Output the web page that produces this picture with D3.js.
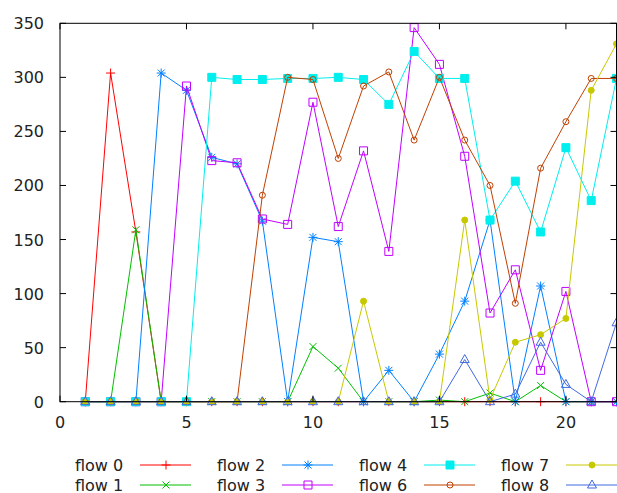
<!DOCTYPE html>
<html>
<head>
<meta charset="utf-8">
<script src="https://cdn.jsdelivr.net/npm/d3@7"></script>
<style>
  body { margin: 0; background: #fff; }
  text { font-family: 'DejaVu Sans', sans-serif; font-size: 16px; fill: #222; }
</style>
</head>
<body>
<svg id="chart" width="617" height="493"></svg>
<script>
// x positions 1..22
const steps = d3.range(1, 23)
const seriesNames = ['flow 0', 'flow 1', 'flow 2', 'flow 3', 'flow 4', 'flow 6', 'flow 7', 'flow 8']
const flow0 = [0, 304, 157, 0, 0, 0, 0, 0, 0, 0, 0, 0, 0, 0, 0, 0, 0, 0, 0, 0, 0, 0]
const flow1 = [0, 0, 159, 0, 0, 0, 0, 0, 0, 51, 31, 0, 0, 0, 1.5, 0, 8, 0, 15, 0, 0, 0]
const flow2 = [0, 0, 0, 304, 288, 226, 220, 167, 0, 152, 148, 0, 29, 0, 44, 93, 168, 0, 107, 0, 0, 0]
const flow3 = [0, 0, 0, 0, 292, 223, 221, 169, 164, 277, 162, 232, 139, 346, 312, 227, 82, 122, 29, 102, 0, 0]
const flow4 = [0, 0, 0, 0, 0, 300, 298, 298, 299, 299, 300, 298, 275, 324, 299, 299, 168, 204, 157, 235, 186, 299]
const flow6 = [0, 0, 0, 0, 0, 0, 0, 191, 300, 298, 225, 292, 305, 242, 300, 242, 200, 91, 216, 259, 299, 299]
const flow7 = [0, 0, 0, 0, 0, 0, 0, 0, 0, 0, 0, 93, 0, 0, 0, 168, 2, 55, 62, 77, 288, 331]
const flow8 = [0, 0, 0, 0, 0, 0, 0, 0, 0, 0, 0, 0, 0, 0, 0, 39, 0, 7, 55, 16, 0, 73]
const xTicks = [0, 5, 10, 15, 20]
const yTicks = [0, 50, 100, 150, 200, 250, 300, 350]

const colors = ['#ff0000', '#00c000', '#0080ff', '#c000ff', '#00eeee', '#c04000', '#c8c800', '#4169e1']
const symbols = ['plus', 'cross', 'star', 'box', 'fbox', 'circle', 'fcircle', 'tri']
const allValues = [flow0, flow1, flow2, flow3, flow4, flow6, flow7, flow8]

const svg = d3.select('#chart')
const plotLeft = 60
const plotRight = 616.5
const plotTop = 23.3
const plotBottom = 401.7

const x = d3.scaleLinear().domain([0, 22]).range([plotLeft, plotRight])
const y = d3.scaleLinear().domain([0, 350]).range([plotBottom, plotTop])

// marker path for each gnuplot point type
function marker (type, cx, cy) {
  const r = 4.5
  switch (type) {
    case 'plus': return `M${cx - r},${cy}H${cx + r}M${cx},${cy - r}V${cy + r}`
    case 'cross': return `M${cx - 3.5},${cy - 3.5}L${cx + 3.5},${cy + 3.5}M${cx - 3.5},${cy + 3.5}L${cx + 3.5},${cy - 3.5}`
    case 'star': return marker('plus', cx, cy) + marker('cross', cx, cy)
    case 'box':
    case 'fbox': return `M${cx - 4},${cy - 4}h8v8h-8Z`
    case 'circle':
    case 'fcircle': return `M${cx + 3},${cy}A3,3 0 1,1 ${cx - 3},${cy}A3,3 0 1,1 ${cx + 3},${cy}Z`
    case 'tri': return `M${cx},${cy - 5}L${cx + 4.5},${cy + 3}L${cx - 4.5},${cy + 3}Z`
  }
}
function isFilled (type) { return type === 'fbox' || type === 'fcircle' }

const series = seriesNames.map((name, i) => ({
  name,
  color: colors[i],
  symbol: symbols[i],
  values: steps.map((s, j) => ({ x: s, y: allValues[i][j] }))
}))

// clip so nothing spills outside the frame
svg.append('defs').append('clipPath').attr('id', 'plotclip')
  .append('rect').attr('x', plotLeft - 6).attr('y', plotTop - 6)
  .attr('width', plotRight - plotLeft + 12).attr('height', plotBottom - plotTop + 12)

const line = d3.line().x(d => x(d.x)).y(d => y(d.y))
const plot = svg.append('g').attr('clip-path', 'url(#plotclip)')

series.forEach(s => {
  const g = plot.append('g')
  g.append('path')
    .attr('d', line(s.values))
    .attr('fill', 'none')
    .attr('stroke', s.color)
    .attr('stroke-width', 1)
  g.selectAll('path.pt')
    .data(s.values)
    .join('path')
    .attr('class', 'pt')
    .attr('d', d => marker(s.symbol, x(d.x), y(d.y)))
    .attr('fill', isFilled(s.symbol) ? s.color : 'none')
    .attr('stroke', s.color)
    .attr('stroke-width', 1)
})

// frame and inward ticks (mirrored)
const frame = svg.append('g')
frame.append('rect')
  .attr('x', plotLeft).attr('y', plotTop)
  .attr('width', plotRight - plotLeft).attr('height', plotBottom - plotTop)
  .attr('fill', 'none').attr('stroke', '#000').attr('stroke-width', 1)

frame.selectAll('line.xt')
  .data(xTicks)
  .join('line')
  .attr('class', 'xt')
  .attr('x1', d => x(d)).attr('x2', d => x(d))
  .attr('y1', plotBottom).attr('y2', plotBottom - 6)
  .attr('stroke', '#000')
frame.selectAll('line.xt2')
  .data(xTicks)
  .join('line')
  .attr('class', 'xt2')
  .attr('x1', d => x(d)).attr('x2', d => x(d))
  .attr('y1', plotTop).attr('y2', plotTop + 6)
  .attr('stroke', '#000')
frame.selectAll('line.yt')
  .data(yTicks)
  .join('line')
  .attr('class', 'yt')
  .attr('x1', plotLeft).attr('x2', plotLeft + 6)
  .attr('y1', d => y(d)).attr('y2', d => y(d))
  .attr('stroke', '#000')
frame.selectAll('line.yt2')
  .data(yTicks)
  .join('line')
  .attr('class', 'yt2')
  .attr('x1', plotRight).attr('x2', plotRight - 6)
  .attr('y1', d => y(d)).attr('y2', d => y(d))
  .attr('stroke', '#000')

svg.selectAll('text.xl')
  .data(xTicks)
  .join('text')
  .attr('class', 'xl')
  .attr('x', d => x(d)).attr('y', 428)
  .attr('text-anchor', 'middle')
  .text(d => d)
svg.selectAll('text.yl')
  .data(yTicks)
  .join('text')
  .attr('class', 'yl')
  .attr('x', 44).attr('y', d => y(d) + 6)
  .attr('text-anchor', 'end')
  .text(d => d)

// key, 4 columns x 2 rows
const key = svg.append('g')
series.forEach((s, i) => {
  const col = Math.floor(i / 2)
  const row = i % 2
  const tx = 75 + col * 142
  const ty = 465 + row * 20
  key.append('text').attr('x', tx).attr('y', ty + 5.5).text(s.name)
  key.append('line')
    .attr('x1', tx + 65).attr('x2', tx + 116)
    .attr('y1', ty).attr('y2', ty)
    .attr('stroke', s.color).attr('stroke-width', 1)
  key.append('path')
    .attr('d', marker(s.symbol, tx + 91, ty))
    .attr('fill', isFilled(s.symbol) ? s.color : 'none')
    .attr('stroke', s.color)
})
</script>
</body>
</html>
